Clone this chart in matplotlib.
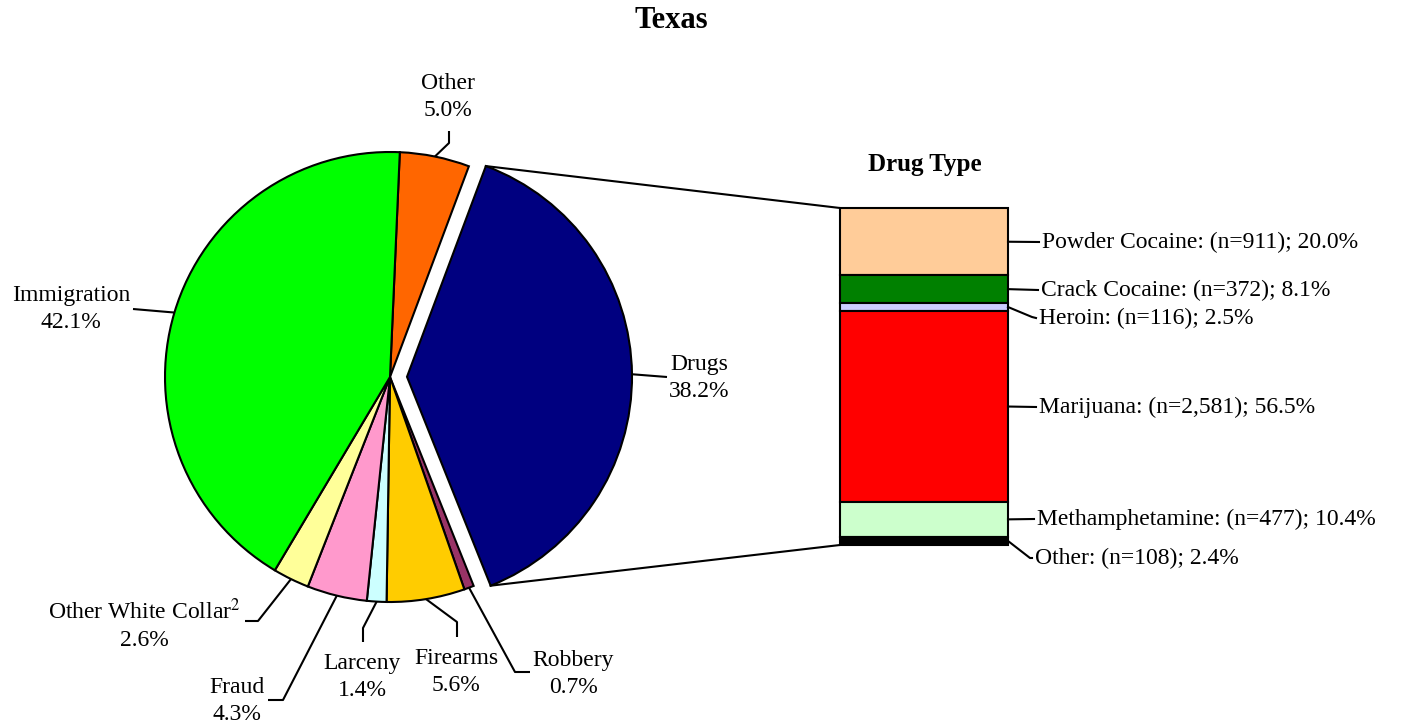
import math

import matplotlib.pyplot as plt
import numpy as np

plt.rcParams["font.family"] = ["Liberation Serif", "DejaVu Serif"]
plt.rcParams["mathtext.fontset"] = "stix"

# offense categories, clockwise from the top
offenses = ["Other", "Drugs", "Robbery", "Firearms", "Larceny", "Fraud",
            "Other White Collar$^{2}$", "Immigration"]
offense_pct = [5.0, 38.2, 0.7, 5.6, 1.4, 4.3, 2.6, 42.1]
offense_colors = ["#FF6600", "#000080", "#993366", "#FFCC00", "#CCFFFF",
                  "#FF99CC", "#FFFF99", "#00FF00"]

# drug types, top to bottom in the bar
drugs = ["Powder Cocaine", "Crack Cocaine", "Heroin", "Marijuana",
         "Methamphetamine", "Other"]
drug_n = [911, 372, 116, 2581, 477, 108]
drug_pct = [20.0, 8.1, 2.5, 56.5, 10.4, 2.4]
drug_colors = ["#FFCC99", "#008000", "#CCCCFF", "#FF0000", "#CCFFCC", "#000000"]

W, H = 1402, 727


def Y(y):
    # picture rows -> axes units
    return H - y


def plot():
    fig = plt.figure(figsize=(W / 100, H / 100), dpi=100)
    ax = fig.add_axes([0, 0, 1, 1])

    cx, cy, r = 390, Y(377), 225
    wedges, _ = ax.pie(offense_pct, colors=offense_colors, startangle=87.5,
                       counterclock=False, radius=r, center=(cx, cy),
                       explode=[0, 17, 0, 0, 0, 0, 0, 0],
                       wedgeprops=dict(edgecolor="black", linewidth=1.5))
    ax.set_xlim(0, W)
    ax.set_ylim(0, H)
    ax.axis("off")

    # pie labels: (text centre, leader bend points)
    label_pos = [(448, 97), (699, 378), (573, 674), (456, 672), (362, 677),
                 (237, 701), (144, 625), (71, 309)]
    leader_pts = [[(449, 143), (449, 131)],
                  [(667, 377)],
                  [(515, 672), (530, 672)],
                  [(457, 622), (457, 637)],
                  [(363, 628), (363, 642)],
                  [(283, 700), (268, 700)],
                  [(258, 621), (245, 621)],
                  [(133, 309)]]
    for w, name, p, (tx, ty), pts in zip(wedges, offenses, offense_pct,
                                         label_pos, leader_pts):
        mid = math.radians((w.theta1 + w.theta2) / 2)
        ex = w.center[0] + w.r * math.cos(mid)
        ey = w.center[1] + w.r * math.sin(mid)
        xs = [ex] + [q[0] for q in pts]
        ys = [ey] + [Y(q[1]) for q in pts]
        ax.plot(xs, ys, color="black", lw=1.5, solid_capstyle="butt")
        ax.text(tx, Y(ty), f"{name}\n{p:.1f}%", ha="center", va="center",
                fontsize=17, linespacing=1.35)

    # bar of drug types
    bx, bw, btop, bh = 924, 168, Y(208), 337
    heights = np.array(drug_pct) * bh / sum(drug_pct)
    bottoms = btop - np.cumsum(heights)
    ax.bar(bx, heights, width=bw, bottom=bottoms, color=drug_colors,
           edgecolor="black", linewidth=1.5)

    # connectors from exploded slice to the bar
    dw = wedges[1]
    for ang, yb in [(dw.theta1, btop - heights.sum()), (dw.theta2, btop)]:
        a = math.radians(ang)
        ax.plot([dw.center[0] + dw.r * math.cos(a), bx - bw / 2],
                [dw.center[1] + dw.r * math.sin(a), yb],
                color="black", lw=1.5)

    text_pos = [(1042, 242), (1041, 290), (1039, 318), (1039, 407),
                (1037, 519), (1035, 558)]
    bends = [[], [], [(1032, 317)], [], [], [(1030, 558)]]
    for h, b, name, n, p, (tx, ty), bend in zip(heights, bottoms, drugs,
                                                drug_n, drug_pct, text_pos, bends):
        my = b + h / 2
        xs = [bx + bw / 2] + [q[0] for q in bend] + [tx - 3]
        ys = [my] + [Y(q[1]) for q in bend] + [Y(ty)]
        ax.plot(xs, ys, color="black", lw=1.5)
        ax.text(tx, Y(ty), f"{name}: (n={n:,}); {p:.1f}%", ha="left",
                va="center", fontsize=17)

    ax.text(925, Y(165), "Drug Type", ha="center", va="center",
            fontsize=18, fontweight="bold")
    ax.text(671, Y(21), "Texas", ha="center", va="center",
            fontsize=22, fontweight="bold")

    plt.savefig("out.png", dpi=100)


if __name__ == "__main__":
    plot()
